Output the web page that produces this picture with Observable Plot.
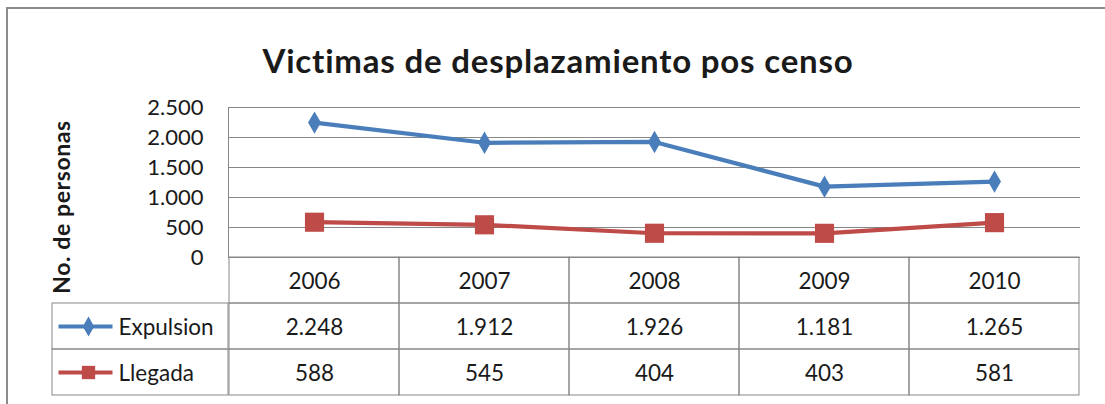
<!DOCTYPE html>
<html><head><meta charset="utf-8">
<script src="https://cdn.jsdelivr.net/npm/d3@7"></script>
<script src="https://cdn.jsdelivr.net/npm/@observablehq/plot@0.6"></script>
<style>
html,body{margin:0;padding:0;background:#fff;}
#root{position:relative;width:1105px;height:404px;overflow:hidden;background:#fff;font-family:Lato,"Open Sans",sans-serif;color:#1a1a1a;}
#frame{position:absolute;left:6px;top:7px;width:1200px;height:500px;border-left:2px solid #8c8c8c;border-top:2px solid #8c8c8c;}
#title{position:absolute;left:0;width:1116px;top:41px;text-align:center;font-weight:bold;font-size:33px;letter-spacing:0.8px;line-height:38px;white-space:nowrap;}
#ytitle{position:absolute;left:61px;top:207px;transform:translate(-50%,-50%) rotate(-90deg);font-weight:bold;font-size:23px;letter-spacing:0.6px;white-space:nowrap;}
.plot{position:absolute;}
</style></head>
<body><div id="root">
<div id="frame"></div>
<div id="title"></div>
<div id="ytitle"></div>
<div id="main" class="plot" style="left:0;top:0"></div>
<div id="table" class="plot" style="left:0;top:257px"></div>
<div id="legend" class="plot" style="left:52px;top:257px"></div>
</div>
<script>
const years = ["2006","2007","2008","2009","2010"];
const expulsion = [2248,1912,1926,1181,1265];
const llegada = [588,545,404,403,581];
const seriesNames = ["Expulsion","Llegada"];
const seriesColors = ["#4A7EBB","#BE4B48"];
const seriesSymbols = ["diamond","square"];
const yTicks = [0,500,1000,1500,2000,2500];
const titleText = "Victimas de desplazamiento pos censo";
const yLabel = "No. de personas";

document.getElementById("title").textContent = titleText;
document.getElementById("ytitle").textContent = yLabel;

const loc = d3.formatLocale({decimal:",", thousands:".", grouping:[3], currency:["","€"]});
const fmt = loc.format(",d");

const rows = years.flatMap((yr,i)=>[
  {year:yr, series:"Expulsion", value:expulsion[i]},
  {year:yr, series:"Llegada", value:llegada[i]}
]);
const grid = "#878787";
const textColor = "#1a1a1a";
const style = {fontFamily:"Lato, 'Open Sans', sans-serif", fontSize:"22px", color:textColor, background:"transparent", overflow:"visible"};
const color = {domain:seriesNames, range:seriesColors};

const main = Plot.plot({
  width:1105, height:258, marginLeft:228, marginRight:25, marginTop:107, marginBottom:1,
  x:{type:"band", domain:years, padding:0, axis:null},
  y:{domain:[0,2500], axis:null},
  color, style,
  marks:[
    Plot.gridY(yTicks,{stroke:grid, strokeOpacity:1, strokeWidth:1}),
    Plot.frame({anchor:"left", stroke:grid, strokeWidth:1}),
    Plot.axisY(yTicks,{tickSize:0, tickPadding:25, tickFormat:fmt, fontSize:22, fill:textColor, label:null}),
    Plot.line(rows,{x:"year", y:"value", z:"series", stroke:"series", strokeWidth:4.2}),
    Plot.dot(rows.filter(d=>d.series==="Expulsion"),{x:"year", y:"value", symbol:()=>seriesSymbols[0], r:6.8, fill:"series", stroke:null}),
    Plot.dot(rows.filter(d=>d.series==="Llegada"),{x:"year", y:"value", symbol:()=>seriesSymbols[1], r:10.8, fill:"series", stroke:null})
  ]
});
document.getElementById("main").append(main);

const rowKeys = ["header", ...seriesNames];
const headerCells = years.map(y=>({year:y, row:"header"}));
const table = Plot.plot({
  width:1105, height:140, marginLeft:228, marginRight:25, marginTop:0, marginBottom:2,
  x:{type:"band", domain:years, padding:0, axis:null},
  y:{type:"band", domain:rowKeys, padding:0, axis:null},
  style,
  marks:[
    Plot.cell(headerCells.concat(rows.map(d=>({year:d.year,row:d.series}))),{x:"year", y:"row", fill:"none", stroke:grid, inset:0}),
    Plot.text(headerCells,{x:"year", y:"row", text:"year", fontSize:22.5, fill:textColor, dy:1}),
    Plot.text(rows,{x:"year", y:"series", text:d=>fmt(d.value), fontSize:22.5, fill:textColor, dy:1})
  ]
});
document.getElementById("table").append(table);

const legendRows = seriesNames.map((s,i)=>({series:s, color:seriesColors[i], symbol:seriesSymbols[i]}));
const legend = Plot.plot({
  width:177, height:140, marginLeft:0, marginRight:0, marginTop:0, marginBottom:2,
  x:{domain:[0,177], axis:null},
  y:{type:"band", domain:rowKeys, padding:0, axis:null},
  color, style,
  marks:[
    Plot.barX(legendRows,{x1:0, x2:176, y:"series", fill:"none", stroke:grid, inset:0}),
    Plot.link(legendRows,{x1:6, x2:60, y1:"series", y2:"series", stroke:"series", strokeWidth:4}),
    Plot.dot(legendRows.slice(0,1),{x:36, y:"series", symbol:"symbol", r:6, fill:"series", stroke:null}),
    Plot.dot(legendRows.slice(1),{x:36, y:"series", symbol:"symbol", r:7.5, fill:"series", stroke:null}),
    Plot.text(legendRows,{x:66, y:"series", text:"series", textAnchor:"start", fontSize:22.5, fill:textColor, dy:1})
  ]
});
document.getElementById("legend").append(legend);
</script>
</body></html>
